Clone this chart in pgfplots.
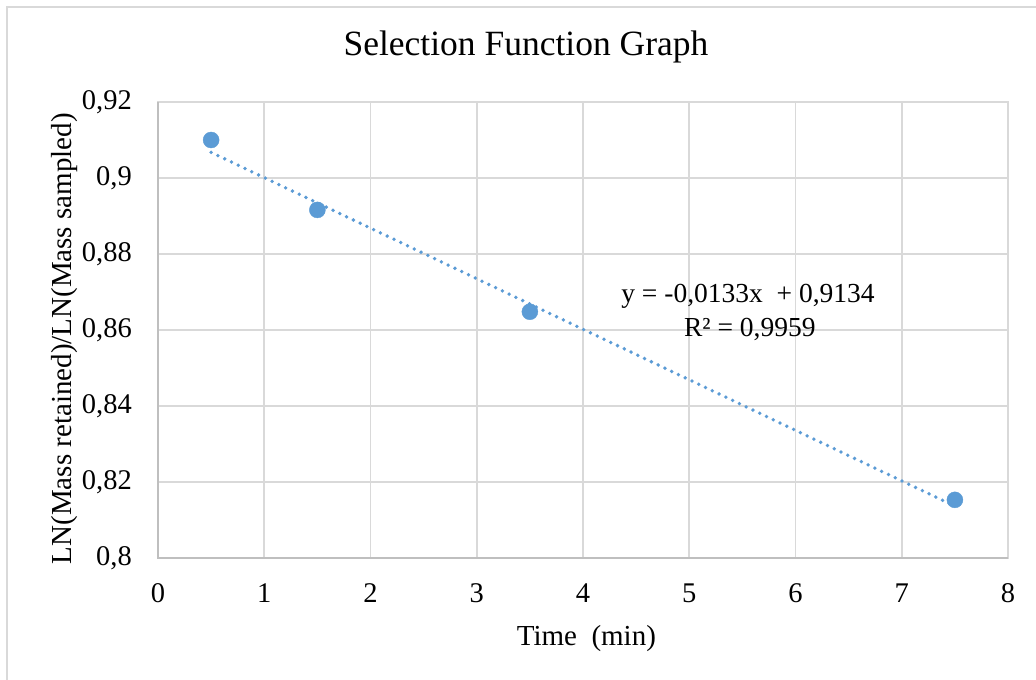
\documentclass[border=0pt]{standalone}
\usepackage{fontspec}
\setmainfont{Liberation Serif}
\usepackage{pgfplots}
\pgfplotsset{compat=1.18}
\definecolor{excelblue}{HTML}{5B9BD5}
\definecolor{gridgray}{HTML}{D9D9D9}
\definecolor{axisgray}{HTML}{BFBFBF}
\begin{document}
\begin{tikzpicture}
\useasboundingbox (-158bp,-122bp) rectangle (878bp,558bp);
\fill[white] (-158bp,-122bp) rectangle (878bp,558bp);
\draw[gridgray, line width=1.5bp] (-151bp,-130bp) -- (-151bp,551bp) -- (890bp,551bp);
\begin{axis}[
  at={(0,0)}, anchor=south west,
  scale only axis, width=850bp, height=456bp,
  xmin=0, xmax=8, ymin=0.8, ymax=0.92,
  clip=false,
  xtick={0,1,2,3,4,5,6,7,8},
  xticklabels={0,1,2,3,4,5,6,7,8},
  ytick={0.8,0.82,0.84,0.86,0.88,0.9,0.92},
  yticklabels={{0,8},{0,82},{0,84},{0,86},{0,88},{0,9},{0,92}},
  grid=major,
  major grid style={gridgray, line width=1.8bp},
  axis line style={gridgray, line width=1.8bp},
  major tick length=0pt,
  tick label style={font=\fontsize{28.5bp}{33bp}\selectfont, inner sep=0pt},
  xticklabel style={anchor=base, yshift=-44bp},
  yticklabel style={anchor=east, xshift=-26bp},
  xlabel={Time\ \ (min)},
  xlabel style={at={(axis description cs:0.504,-0.1908)}, anchor=base, inner sep=0pt, font=\fontsize{29bp}{34bp}\selectfont},
  ylabel={LN(Mass retained)/LN(Mass sampled)},
  ylabel style={at={(axis description cs:-0.1015,0.481)}, anchor=base, inner sep=0pt, font=\fontsize{29bp}{34bp}\selectfont},
  title={Selection Function Graph},
  title style={at={(axis description cs:0.4329,1.088)}, anchor=base, inner sep=0pt, font=\fontsize{35.5bp}{40bp}\selectfont},
]
\draw[axisgray, line width=1.8bp] (axis cs:0,0.92) -- (axis cs:0,0.8) -- (axis cs:8,0.8);
\addplot[excelblue, line width=3.8bp, line cap=round, dash pattern=on 0bp off 7.5bp]
  coordinates {(0.5,0.90675) (7.5,0.81365)};
\addplot[only marks, mark=*, mark size=8bp, color=excelblue, mark options={draw=excelblue, fill=excelblue}]
  coordinates {(0.5,0.9100) (1.5,0.8916) (3.5,0.8648) (7.5,0.8153)};
\node[anchor=base, inner sep=0pt, font=\fontsize{27.5bp}{32bp}\selectfont] at (axis cs:5.553,0.86711) {y = -0,0133x\ \ + 0,9134};
\node[anchor=base, inner sep=0pt, font=\fontsize{27.5bp}{32bp}\selectfont] at (axis cs:5.57,0.85816) {R² = 0,9959};
\end{axis}
\end{tikzpicture}
\end{document}
